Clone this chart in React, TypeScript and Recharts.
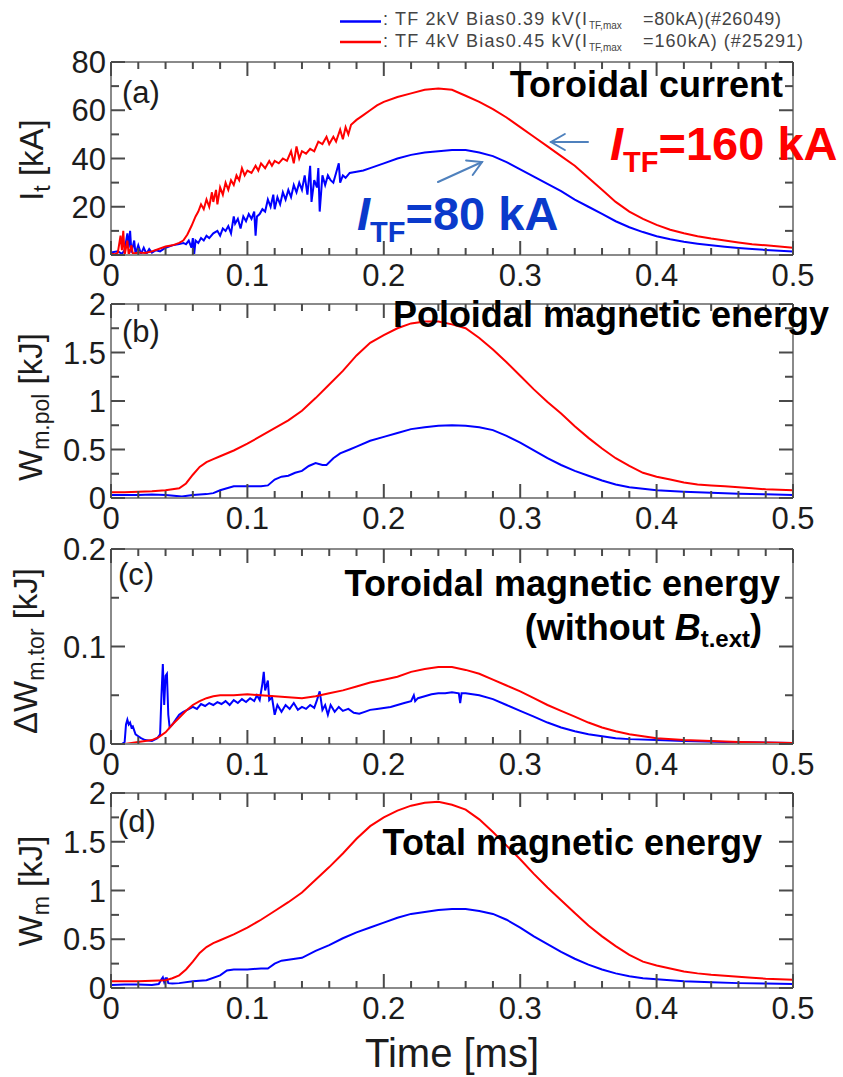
import React from 'react';
import { LineChart, Line, XAxis, YAxis } from 'recharts';

type Pt = [number, number];

// ---------- measured waveforms: [time (ms), value] ----------
// (a) toroidal current It [kA]
const currentTF160: Pt[] = [
  [0, 0.5], [0.003, 0.3], [0.005, 1], [0.007, 8], [0.008, 2], [0.009, 10], [0.01, 0], [0.012, 6],
  [0.013, 0], [0.015, 4], [0.016, 0.5], [0.02, 1], [0.025, 0.8], [0.03, 1.5], [0.035, 2.5], [0.04, 3.5],
  [0.045, 4], [0.05, 5], [0.053, 6], [0.056, 8.5], [0.059, 12], [0.062, 16], [0.064, 18], [0.066, 21],
  [0.068, 19], [0.07, 23], [0.072, 20], [0.074, 26], [0.075, 22], [0.077, 27], [0.078, 21], [0.08, 28],
  [0.082, 25], [0.084, 30], [0.086, 27], [0.088, 31], [0.09, 29], [0.092, 33], [0.094, 31], [0.096, 36],
  [0.098, 33], [0.1, 35], [0.103, 34], [0.106, 37], [0.108, 35], [0.11, 38], [0.113, 36], [0.116, 39],
  [0.118, 37], [0.12, 39], [0.123, 38], [0.126, 40], [0.129, 39], [0.132, 43], [0.134, 38], [0.136, 45],
  [0.138, 40], [0.14, 43], [0.143, 42], [0.146, 44], [0.149, 43], [0.152, 47], [0.155, 46], [0.158, 49],
  [0.16, 46], [0.163, 49], [0.165, 47], [0.168, 52], [0.17, 48], [0.172, 53], [0.174, 50], [0.176, 54],
  [0.18, 56], [0.185, 58], [0.19, 60], [0.195, 62], [0.2, 63.5], [0.21, 65.5], [0.22, 67], [0.23, 68.5],
  [0.24, 69], [0.25, 68.5], [0.26, 66], [0.27, 63.5], [0.28, 60.5], [0.29, 57], [0.3, 53], [0.31, 49],
  [0.32, 45], [0.33, 41], [0.34, 37], [0.35, 32], [0.36, 27], [0.37, 22], [0.38, 18], [0.39, 15],
  [0.4, 12.5], [0.41, 10.5], [0.42, 9], [0.43, 7.8], [0.44, 6.8], [0.45, 6], [0.46, 5.2], [0.47, 4.5],
  [0.48, 4], [0.49, 3.5], [0.5, 3],
];
const currentTF80: Pt[] = [
  [0, 1], [0.005, 1.5], [0.008, 0.5], [0.01, 2], [0.012, 9], [0.013, 3], [0.014, 10], [0.015, 1],
  [0.017, 6], [0.018, 0.5], [0.02, 4], [0.022, 0.5], [0.024, 3], [0.026, 0.5], [0.028, 2.5], [0.03, 1],
  [0.033, 2], [0.036, 1.5], [0.04, 3], [0.045, 4], [0.05, 4.5], [0.053, 5], [0.055, 4.5], [0.057, 6],
  [0.059, 3], [0.06, 7], [0.061, 0.5], [0.062, 6], [0.064, 5], [0.066, 7], [0.068, 6], [0.07, 8],
  [0.072, 7], [0.075, 9], [0.078, 10], [0.08, 8], [0.082, 11], [0.084, 10], [0.086, 12], [0.088, 9],
  [0.09, 16], [0.091, 13], [0.093, 15], [0.095, 11], [0.097, 16], [0.099, 14], [0.101, 17], [0.103, 15],
  [0.105, 18], [0.106, 8], [0.107, 16], [0.109, 17], [0.111, 19], [0.113, 18], [0.115, 23], [0.117, 20],
  [0.119, 25], [0.12, 19], [0.122, 24], [0.124, 21], [0.126, 26], [0.128, 23], [0.13, 27], [0.132, 24],
  [0.134, 29], [0.136, 26], [0.138, 30], [0.14, 27], [0.142, 33], [0.144, 25], [0.146, 37], [0.147, 22],
  [0.149, 31], [0.151, 28], [0.152, 36], [0.153, 18], [0.155, 33], [0.157, 29], [0.159, 33], [0.161, 31],
  [0.163, 30], [0.165, 34], [0.167, 38], [0.168, 30], [0.17, 33], [0.172, 32], [0.175, 34], [0.18, 34.5],
  [0.185, 35], [0.19, 36], [0.2, 38], [0.21, 40], [0.22, 41.5], [0.23, 42.5], [0.24, 43], [0.25, 43.5],
  [0.26, 43.5], [0.27, 42.5], [0.28, 41], [0.29, 38.5], [0.3, 35.5], [0.31, 32.5], [0.32, 29.5], [0.33, 26.5],
  [0.34, 23], [0.35, 20], [0.36, 17], [0.37, 14], [0.38, 11.5], [0.39, 9.5], [0.4, 7.8], [0.41, 6.5],
  [0.42, 5.5], [0.43, 4.7], [0.44, 4], [0.45, 3.4], [0.46, 2.9], [0.47, 2.5], [0.48, 2.1], [0.49, 1.8],
  [0.5, 1.5],
];

// (b) poloidal magnetic energy [kJ]
const polEnergyTF160: Pt[] = [
  [0, 0.06], [0.01, 0.06], [0.02, 0.065], [0.03, 0.07], [0.04, 0.08], [0.045, 0.09], [0.05, 0.1],
  [0.055, 0.15], [0.06, 0.24], [0.065, 0.32], [0.07, 0.37], [0.075, 0.4], [0.08, 0.43], [0.09, 0.49],
  [0.1, 0.56], [0.11, 0.64], [0.12, 0.72], [0.13, 0.8], [0.14, 0.9], [0.15, 1.03], [0.16, 1.17],
  [0.17, 1.31], [0.18, 1.47], [0.19, 1.6], [0.2, 1.68], [0.21, 1.75], [0.22, 1.8], [0.23, 1.82],
  [0.24, 1.82], [0.25, 1.79], [0.26, 1.75], [0.27, 1.65], [0.28, 1.53], [0.29, 1.4], [0.3, 1.26],
  [0.31, 1.12], [0.32, 0.99], [0.33, 0.87], [0.34, 0.74], [0.35, 0.62], [0.36, 0.51], [0.37, 0.41],
  [0.38, 0.33], [0.39, 0.26], [0.4, 0.22], [0.41, 0.19], [0.42, 0.16], [0.43, 0.14], [0.44, 0.13],
  [0.45, 0.12], [0.46, 0.11], [0.47, 0.1], [0.48, 0.09], [0.49, 0.085], [0.5, 0.08],
];
const polEnergyTF80: Pt[] = [
  [0, 0.03], [0.01, 0.03], [0.02, 0.03], [0.03, 0.035], [0.04, 0.03], [0.048, 0.02], [0.052, 0.015],
  [0.06, 0.03], [0.07, 0.04], [0.075, 0.05], [0.08, 0.08], [0.085, 0.1], [0.09, 0.12], [0.1, 0.12],
  [0.11, 0.12], [0.115, 0.13], [0.12, 0.19], [0.125, 0.22], [0.13, 0.23], [0.135, 0.26], [0.14, 0.28],
  [0.145, 0.33], [0.15, 0.36], [0.155, 0.34], [0.158, 0.34], [0.163, 0.41], [0.168, 0.46], [0.175, 0.5],
  [0.18, 0.53], [0.19, 0.59], [0.2, 0.63], [0.21, 0.67], [0.22, 0.71], [0.23, 0.73], [0.24, 0.745],
  [0.25, 0.75], [0.26, 0.745], [0.27, 0.73], [0.28, 0.7], [0.29, 0.64], [0.3, 0.57], [0.31, 0.49],
  [0.32, 0.41], [0.33, 0.34], [0.34, 0.28], [0.35, 0.23], [0.36, 0.18], [0.37, 0.14], [0.38, 0.11],
  [0.39, 0.095], [0.4, 0.08], [0.42, 0.065], [0.44, 0.055], [0.46, 0.045], [0.48, 0.038], [0.5, 0.032],
];

// (c) toroidal magnetic energy without the external field [kJ]
const torEnergyTF160: Pt[] = [
  [0, 0], [0.01, 0], [0.015, 0.001], [0.02, 0.002], [0.025, 0.003], [0.03, 0.004], [0.035, 0.007],
  [0.04, 0.012], [0.045, 0.02], [0.05, 0.027], [0.055, 0.034], [0.06, 0.04], [0.065, 0.044],
  [0.07, 0.047], [0.075, 0.049], [0.08, 0.05], [0.09, 0.05], [0.1, 0.051], [0.11, 0.05], [0.12, 0.049],
  [0.13, 0.048], [0.14, 0.047], [0.15, 0.049], [0.16, 0.052], [0.17, 0.055], [0.18, 0.059],
  [0.19, 0.063], [0.2, 0.066], [0.21, 0.069], [0.22, 0.074], [0.23, 0.077], [0.24, 0.079], [0.25, 0.079],
  [0.26, 0.076], [0.27, 0.072], [0.28, 0.066], [0.29, 0.06], [0.3, 0.054], [0.31, 0.047], [0.32, 0.04],
  [0.33, 0.034], [0.34, 0.028], [0.35, 0.022], [0.36, 0.017], [0.37, 0.013], [0.38, 0.01], [0.39, 0.008],
  [0.4, 0.006], [0.42, 0.004], [0.44, 0.003], [0.46, 0.002], [0.48, 0.0015], [0.5, 0.001],
];
const torEnergyTF80: Pt[] = [
  [0, 0], [0.008, 0], [0.01, 0.002], [0.011, 0.02], [0.012, 0.025], [0.013, 0.02], [0.014, 0.022],
  [0.015, 0.017], [0.016, 0.018], [0.018, 0.01], [0.02, 0.008], [0.022, 0.006], [0.025, 0.004],
  [0.03, 0.003], [0.034, 0.006], [0.036, 0.01], [0.037, 0.05], [0.038, 0.082], [0.039, 0.04], [0.04, 0.07],
  [0.041, 0.072], [0.042, 0.03], [0.043, 0.017], [0.045, 0.02], [0.048, 0.026], [0.05, 0.03],
  [0.053, 0.033], [0.056, 0.035], [0.06, 0.038], [0.063, 0.036], [0.066, 0.041], [0.069, 0.039],
  [0.072, 0.042], [0.075, 0.04], [0.078, 0.043], [0.081, 0.041], [0.084, 0.044], [0.087, 0.04],
  [0.09, 0.045], [0.093, 0.042], [0.096, 0.046], [0.099, 0.043], [0.102, 0.047], [0.105, 0.044],
  [0.107, 0.05], [0.109, 0.045], [0.111, 0.062], [0.112, 0.074], [0.113, 0.055], [0.115, 0.065],
  [0.116, 0.045], [0.118, 0.048], [0.12, 0.03], [0.122, 0.04], [0.125, 0.033], [0.128, 0.04],
  [0.131, 0.036], [0.134, 0.042], [0.137, 0.035], [0.14, 0.038], [0.143, 0.036], [0.146, 0.04],
  [0.149, 0.037], [0.151, 0.045], [0.153, 0.054], [0.155, 0.035], [0.157, 0.04], [0.159, 0.03],
  [0.161, 0.04], [0.164, 0.033], [0.167, 0.038], [0.17, 0.034], [0.174, 0.036], [0.178, 0.032],
  [0.182, 0.031], [0.186, 0.033], [0.19, 0.035], [0.195, 0.036], [0.2, 0.037], [0.205, 0.038],
  [0.21, 0.04], [0.215, 0.042], [0.22, 0.044], [0.222, 0.05], [0.223, 0.044], [0.225, 0.047],
  [0.23, 0.049], [0.235, 0.051], [0.24, 0.052], [0.245, 0.052], [0.25, 0.053], [0.255, 0.052],
  [0.256, 0.042], [0.257, 0.052], [0.26, 0.052], [0.27, 0.05], [0.28, 0.046], [0.29, 0.04], [0.3, 0.034],
  [0.31, 0.028], [0.32, 0.022], [0.33, 0.017], [0.34, 0.013], [0.35, 0.01], [0.36, 0.008], [0.37, 0.006],
  [0.38, 0.005], [0.4, 0.004], [0.42, 0.003], [0.45, 0.002], [0.5, 0.001],
];

// (d) total magnetic energy [kJ]
const totalEnergyTF160: Pt[] = [
  [0, 0.07], [0.01, 0.07], [0.02, 0.07], [0.03, 0.075], [0.04, 0.08], [0.045, 0.1], [0.05, 0.13],
  [0.055, 0.19], [0.06, 0.27], [0.065, 0.36], [0.07, 0.42], [0.075, 0.46], [0.08, 0.49], [0.09, 0.55],
  [0.1, 0.62], [0.11, 0.7], [0.12, 0.79], [0.13, 0.88], [0.14, 0.98], [0.15, 1.11], [0.16, 1.24],
  [0.17, 1.38], [0.18, 1.53], [0.19, 1.66], [0.2, 1.75], [0.21, 1.82], [0.22, 1.87], [0.23, 1.9],
  [0.24, 1.91], [0.25, 1.88], [0.26, 1.83], [0.27, 1.73], [0.28, 1.6], [0.29, 1.46], [0.3, 1.32],
  [0.31, 1.17], [0.32, 1.03], [0.33, 0.9], [0.34, 0.77], [0.35, 0.64], [0.36, 0.53], [0.37, 0.43],
  [0.38, 0.34], [0.39, 0.27], [0.4, 0.23], [0.41, 0.2], [0.42, 0.17], [0.43, 0.15], [0.44, 0.135],
  [0.45, 0.125], [0.46, 0.115], [0.47, 0.105], [0.48, 0.095], [0.49, 0.09], [0.5, 0.085],
];
const totalEnergyTF80: Pt[] = [
  [0, 0.03], [0.01, 0.035], [0.02, 0.035], [0.03, 0.03], [0.035, 0.04], [0.037, 0.09], [0.038, 0.11],
  [0.039, 0.06], [0.04, 0.1], [0.041, 0.1], [0.042, 0.05], [0.045, 0.045], [0.05, 0.05], [0.06, 0.07],
  [0.07, 0.08], [0.08, 0.13], [0.085, 0.18], [0.09, 0.19], [0.1, 0.19], [0.11, 0.2], [0.115, 0.2],
  [0.12, 0.25], [0.125, 0.28], [0.13, 0.29], [0.14, 0.31], [0.15, 0.38], [0.16, 0.44], [0.17, 0.51],
  [0.18, 0.57], [0.19, 0.62], [0.2, 0.67], [0.21, 0.72], [0.22, 0.76], [0.23, 0.78], [0.24, 0.8],
  [0.25, 0.81], [0.26, 0.81], [0.27, 0.79], [0.28, 0.76], [0.29, 0.7], [0.3, 0.62], [0.31, 0.53],
  [0.32, 0.45], [0.33, 0.37], [0.34, 0.3], [0.35, 0.24], [0.36, 0.19], [0.37, 0.15], [0.38, 0.12],
  [0.39, 0.1], [0.4, 0.09], [0.42, 0.07], [0.44, 0.06], [0.46, 0.05], [0.48, 0.045], [0.5, 0.04],
];

// ---------- ticks ----------
const timeTicks = [0, 0.02, 0.04, 0.06, 0.08, 0.1, 0.12, 0.14, 0.16, 0.18, 0.2, 0.22, 0.24, 0.26, 0.28,
  0.3, 0.32, 0.34, 0.36, 0.38, 0.4, 0.42, 0.44, 0.46, 0.48, 0.5];
const timeLabels = [0, 0.1, 0.2, 0.3, 0.4, 0.5];
const currentTicks = [0, 10, 20, 30, 40, 50, 60, 70, 80];
const currentLabels = [0, 20, 40, 60, 80];
const energyTicks = [0, 0.25, 0.5, 0.75, 1, 1.25, 1.5, 1.75, 2];
const energyLabels = [0, 0.5, 1, 1.5, 2];
const torTicks = [0, 0.05, 0.1, 0.15, 0.2];
const torLabels = [0, 0.1, 0.2];

// ---------- styling ----------
const FONT = '"Liberation Sans", Arial, Helvetica, sans-serif';
const FRAME = '#8a8a8a';
const TICK = '#4a4a4a';
const TEXT = '#1c1c1c';
const BLUE = '#0000ff';
const RED = '#ff0000';
const ARROW = '#4f81bd';
const W = 843;
const PLOT_L = 111;
const PLOT_R = 793;

const rows = (pts: Pt[]) => pts.map(([t, v]) => ({ t, v }));

type Side = 'bottom' | 'top' | 'left' | 'right';

function makeTick(side: Side, labels: number[], showText: boolean) {
  return (props: any) => {
    const { x, y, payload } = props;
    const v = payload.value as number;
    const major = labels.includes(v);
    const horizontal = side === 'bottom' || side === 'top';
    const len = major ? 14 : horizontal ? 7 : 8;
    let line: React.ReactNode = null;
    if (side === 'bottom') line = <line x1={x} x2={x} y1={y} y2={y - len} />;
    if (side === 'top') line = <line x1={x} x2={x} y1={y} y2={y + len} />;
    if (side === 'left') line = <line x1={x} x2={x + len} y1={y} y2={y} />;
    if (side === 'right') line = <line x1={x} x2={x - len} y1={y} y2={y} />;
    let label: React.ReactNode = null;
    if (showText && major) {
      if (side === 'bottom') {
        label = (
          <text x={x} y={y + 31} textAnchor="middle" fontSize={31} fill={TEXT} fontFamily={FONT}>
            {String(v)}
          </text>
        );
      } else if (side === 'left') {
        label = (
          <text x={x - 5} y={y + 11} textAnchor="end" fontSize={31} fill={TEXT} fontFamily={FONT}>
            {String(v)}
          </text>
        );
      }
    }
    return (
      <g>
        <g stroke={TICK} strokeWidth={2}>{line}</g>
        {label}
      </g>
    );
  };
}

type Panel = {
  key: string;
  top: number;
  bottom: number;
  axisHeight: number;
  domain: [number, number];
  ticks: number[];
  labels: number[];
  red: Pt[];
  blue: Pt[];
};

const panels: Panel[] = [
  { key: 'a', top: 62, bottom: 255, axisHeight: 40, domain: [0, 80], ticks: currentTicks, labels: currentLabels, red: currentTF160, blue: currentTF80 },
  { key: 'b', top: 304, bottom: 498, axisHeight: 40, domain: [0, 2], ticks: energyTicks, labels: energyLabels, red: polEnergyTF160, blue: polEnergyTF80 },
  { key: 'c', top: 549, bottom: 744, axisHeight: 40, domain: [0, 0.2], ticks: torTicks, labels: torLabels, red: torEnergyTF160, blue: torEnergyTF80 },
  { key: 'd', top: 793, bottom: 988, axisHeight: 89, domain: [0, 2], ticks: energyTicks, labels: energyLabels, red: totalEnergyTF160, blue: totalEnergyTF80 },
];

// room above each plot for the top tick label of the value axis
const TOP_AXIS_H = 20;

function PanelChart({ p }: { p: Panel }) {
  const height = p.bottom - p.top + TOP_AXIS_H + p.axisHeight;
  const redRows = rows(p.red);
  const blueRows = rows(p.blue);
  const axisLine = { stroke: FRAME, strokeWidth: 2 };
  return (
    <div style={{ position: 'absolute', left: 0, top: p.top - TOP_AXIS_H }}>
      <LineChart width={W} height={height} data={redRows} margin={{ top: 0, right: 0, bottom: 0, left: 0 }}>
        <XAxis
          dataKey="t" type="number" domain={[0, 0.5]} ticks={timeTicks} interval={0}
          height={p.axisHeight} tickSize={0} tickMargin={0} tickLine={false} axisLine={axisLine}
          tick={makeTick('bottom', timeLabels, true)} allowDataOverflow
        />
        <XAxis
          xAxisId="top" orientation="top" dataKey="t" type="number" domain={[0, 0.5]} ticks={timeTicks}
          interval={0} height={TOP_AXIS_H} tickSize={0} tickMargin={0} tickLine={false} axisLine={axisLine}
          tick={makeTick('top', timeLabels, false)} allowDataOverflow
        />
        <YAxis
          type="number" domain={p.domain} ticks={p.ticks} interval={0} width={PLOT_L}
          tickSize={0} tickMargin={0} tickLine={false} axisLine={axisLine}
          tick={makeTick('left', p.labels, true)} allowDataOverflow
        />
        <YAxis
          yAxisId="r" orientation="right" type="number" domain={p.domain} ticks={p.ticks} interval={0}
          width={W - PLOT_R} tickSize={0} tickMargin={0} tickLine={false} axisLine={axisLine}
          tick={makeTick('right', p.labels, false)} allowDataOverflow
        />
        <Line data={blueRows} dataKey="v" stroke={BLUE} strokeWidth={2} dot={false} activeDot={false}
          isAnimationActive={false} type="linear" />
        <Line data={redRows} dataKey="v" stroke={RED} strokeWidth={2} dot={false} activeDot={false}
          isAnimationActive={false} type="linear" />
      </LineChart>
    </div>
  );
}

function Arrow({ from, to }: { from: [number, number]; to: [number, number] }) {
  const dx = to[0] - from[0];
  const dy = to[1] - from[1];
  const L = Math.hypot(dx, dy);
  const ux = -dx / L;
  const uy = -dy / L;
  const head = 16;
  const a = Math.PI / 6;
  const p1 = [to[0] + head * (ux * Math.cos(a) - uy * Math.sin(a)), to[1] + head * (ux * Math.sin(a) + uy * Math.cos(a))];
  const p2 = [to[0] + head * (ux * Math.cos(-a) - uy * Math.sin(-a)), to[1] + head * (ux * Math.sin(-a) + uy * Math.cos(-a))];
  return (
    <g stroke={ARROW} strokeWidth={2} fill="none" strokeLinecap="round">
      <line x1={from[0]} y1={from[1]} x2={to[0]} y2={to[1]} />
      <polyline points={`${p1[0]},${p1[1]} ${to[0]},${to[1]} ${p2[0]},${p2[1]}`} />
    </g>
  );
}

function YTitle({ x, y, main, sub, rest, prefix }: { x: number; y: number; main: string; sub: string; rest: string; prefix?: string }) {
  return (
    <text transform={`translate(${x},${y}) rotate(-90)`} textAnchor="middle" fontSize={33} fill={TEXT} fontFamily={FONT}>
      {prefix ? <tspan>{prefix}</tspan> : null}
      <tspan>{main}</tspan>
      <tspan fontSize={23} dy={7}>{sub}</tspan>
      <tspan dy={-7}>{rest}</tspan>
    </text>
  );
}

function Overlay() {
  const bold = { fontFamily: FONT, fontWeight: 700 as const };
  return (
    <svg width={W} height={1077} style={{ position: 'absolute', left: 0, top: 0, pointerEvents: 'none' }}>
      {/* legend */}
      <g fontFamily={FONT} fill="#444" fontSize={18}>
        <line x1={340} x2={381} y1={21.5} y2={21.5} stroke={BLUE} strokeWidth={2.5} />
        <text x={383} y={25} textLength={204} lengthAdjust="spacing">: TF 2kV Bias0.39 kV(I</text>
        <text x={589} y={29} fontSize={10}>TF,max</text>
        <text x={643} y={25} textLength={138} lengthAdjust="spacing">=80kA)(#26049)</text>
        <line x1={340} x2={381} y1={42} y2={42} stroke={RED} strokeWidth={2.5} />
        <text x={383} y={46.5} textLength={204} lengthAdjust="spacing">: TF 4kV Bias0.45 kV(I</text>
        <text x={589} y={51} fontSize={10}>TF,max</text>
        <text x={643} y={46.5} textLength={160} lengthAdjust="spacing">=160kA) (#25291)</text>
      </g>

      {/* panel letters */}
      <g fontFamily={FONT} fontSize={31} fill={TEXT}>
        <text x={122} y={103}>(a)</text>
        <text x={122} y={342}>(b)</text>
        <text x={118} y={585}>(c)</text>
        <text x={118} y={832}>(d)</text>
      </g>

      {/* axis titles */}
      <YTitle x={43} y={160} main="I" sub="t" rest=" [kA]" />
      <YTitle x={42} y={407} main="W" sub="m.pol" rest=" [kJ]" />
      <YTitle x={37} y={651} prefix="Δ" main="W" sub="m.tor" rest=" [kJ]" />
      <YTitle x={42} y={891} main="W" sub="m" rest=" [kJ]" />
      <text x={(PLOT_L + PLOT_R) / 2} y={1067} textAnchor="middle" fontSize={40} fill={TEXT} fontFamily={FONT}>
        Time [ms]
      </text>

      {/* panel titles */}
      <g {...bold} fontSize={36} fill="#000">
        <text x={783} y={97} textAnchor="end">Toroidal current</text>
        <text x={829} y={327} textAnchor="end">Poloidal magnetic energy</text>
        <text x={780} y={596} textAnchor="end">Toroidal magnetic energy</text>
        <text x={762} y={640} textAnchor="end">
          (without <tspan fontStyle="italic">B</tspan>
          <tspan fontSize={24} dy={7}>t.ext</tspan>
          <tspan dy={-7}>)</tspan>
        </text>
        <text x={762} y={855} textAnchor="end">Total magnetic energy</text>
      </g>

      {/* field labels */}
      <text x={610} y={160} fontSize={47} fill={RED} {...bold}>
        <tspan fontStyle="italic">I</tspan>
        <tspan fontSize={29} dy={12}>TF</tspan>
        <tspan dy={-12}>=160 kA</tspan>
      </text>
      <text x={357} y={230} fontSize={47} fill="#0a3acb" {...bold}>
        <tspan fontStyle="italic">I</tspan>
        <tspan fontSize={29} dy={12}>TF</tspan>
        <tspan dy={-12}>=80 kA</tspan>
      </text>
      <Arrow from={[588, 142]} to={[551, 142]} />
      <Arrow from={[438, 182]} to={[482, 162]} />
    </svg>
  );
}

export default function App() {
  return (
    <div style={{ position: 'absolute', left: 0, top: 0, width: W, height: 1077, background: '#fff' }}>
      {panels.map((p) => (
        <PanelChart key={p.key} p={p} />
      ))}
      <Overlay />
    </div>
  );
}
